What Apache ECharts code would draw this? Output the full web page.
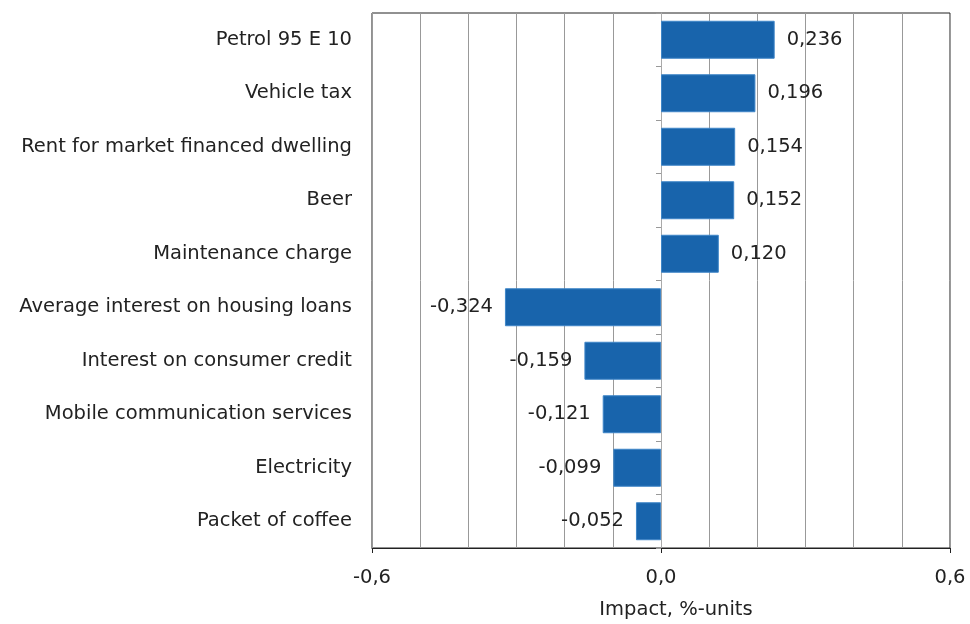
<!DOCTYPE html>
<html>

<head>
    <meta charset="utf-8">
    <title>Impact chart</title>
    <script src="https://cdn.jsdelivr.net/npm/echarts@6/dist/echarts.min.js"></script>
    <style>
        html, body { margin: 0; padding: 0; background: #fff; }
        #chart { width: 970px; height: 624px; }
    </style>
</head>

<body>
    <div id="chart"></div>

    <script type="text/javascript">
        var categories = [
            'Petrol 95 E 10',
            'Vehicle tax',
            'Rent for market financed dwelling',
            'Beer',
            'Maintenance charge',
            'Average interest on housing loans',
            'Interest on consumer credit',
            'Mobile communication services',
            'Electricity',
            'Packet of coffee'
        ];
        var impacts = [0.236, 0.196, 0.154, 0.152, 0.120, -0.324, -0.159, -0.121, -0.099, -0.052];
        var axisMin = -0.6;
        var axisMax = 0.6;
        var axisTitle = 'Impact, %-units';

        var font = 'DejaVu Sans';
        var fontSize = 19.5;
        var textColor = '#222';

        function comma(v, d) {
            return v.toFixed(d).replace('.', ',');
        }

        var chart = echarts.init(document.getElementById('chart'), null, { renderer: 'canvas' });

        var barData = impacts.map(function (v) {
            return {
                value: v,
                label: { position: v < 0 ? 'left' : 'right' }
            };
        });

        chart.setOption({
            animation: false,
            grid: {
                left: 372, right: 20, top: 13, bottom: 76,
                outerBoundsMode: 'none',
                containLabel: false,
                show: true, borderColor: '#222', borderWidth: 1
            },
            xAxis: [
                {
                    // grid lines every 0.1
                    type: 'value', min: axisMin, max: axisMax, interval: 0.1,
                    axisLine: { show: false },
                    axisTick: { show: false },
                    axisLabel: { show: false },
                    splitLine: { show: true, lineStyle: { color: '#999', width: 1 } }
                },
                {
                    type: 'value', min: axisMin, max: axisMax, interval: 0.6,
                    position: 'bottom',
                    axisLine: { show: true, onZero: false, lineStyle: { color: '#222' } },
                    axisTick: { show: true, length: 5, lineStyle: { color: '#222' } },
                    splitLine: { show: false },
                    axisLabel: {
                        margin: 20,
                        color: textColor, fontFamily: font, fontSize: fontSize,
                        formatter: function (v) { return comma(v, 1); }
                    },
                    name: axisTitle,
                    nameLocation: 'middle',
                    nameGap: 52,
                    nameTextStyle: { color: textColor, fontFamily: font, fontSize: fontSize, padding: [0, 0, 0, 30] }
                }
            ],
            yAxis: [
                {
                    type: 'category', data: categories, inverse: true,
                    axisLine: { show: false, onZero: false },
                    axisTick: { show: false },
                    axisLabel: { margin: 20, color: textColor, fontFamily: font, fontSize: fontSize }
                },
                {
                    // zero line with the small ticks between categories
                    type: 'category', data: categories, inverse: true,
                    position: 'left',
                    axisLine: { show: true, onZero: true, lineStyle: { color: '#aaa' } },
                    axisTick: { show: true, length: 5, lineStyle: { color: '#999' } },
                    axisLabel: { show: false }
                }
            ],
            series: [{
                type: 'bar',
                xAxisIndex: 0,
                yAxisIndex: 0,
                data: barData,
                barWidth: '71%',
                itemStyle: { color: '#1864ac', borderColor: '#3f86c8', borderWidth: 1 },
                label: {
                    show: true,
                    distance: 12,
                    color: textColor, fontFamily: font, fontSize: fontSize,
                    formatter: function (p) { return comma(p.value, 3); }
                },
                z: 3
            }]
        });

        window.onresize = function () {
            chart.resize();
        };
    </script>
</body>

</html>
